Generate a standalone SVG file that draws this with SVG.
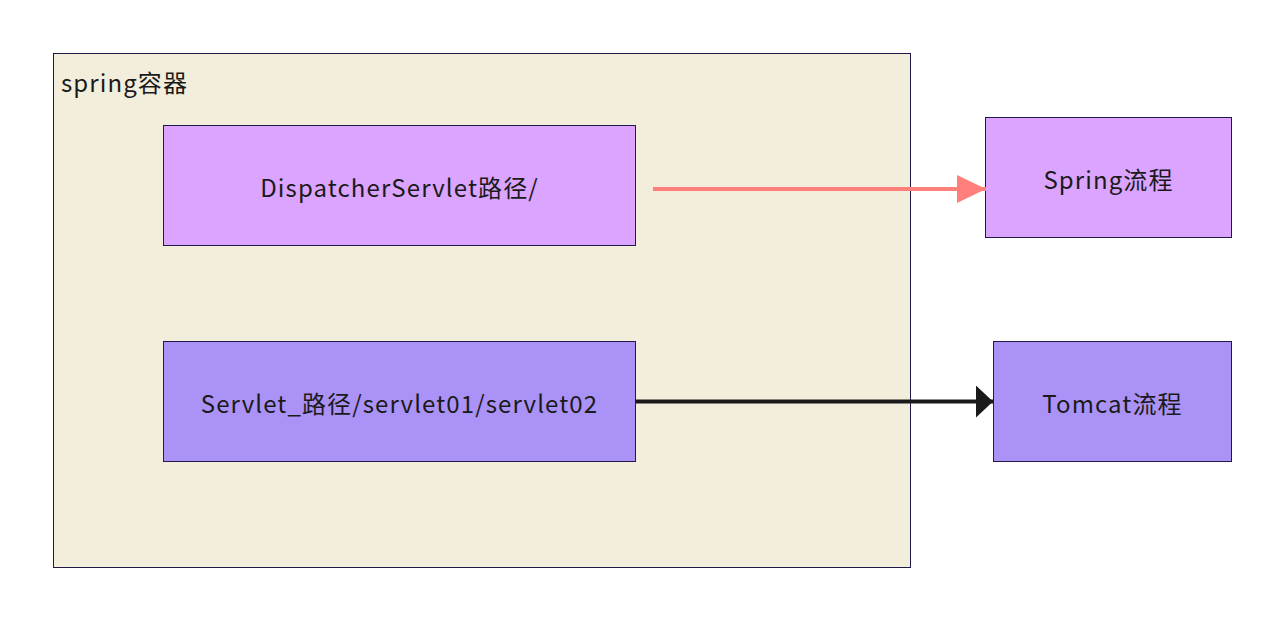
<svg xmlns="http://www.w3.org/2000/svg" width="1265" height="617" viewBox="0 0 1265 617">
<style>
text{font-family:"Noto Sans CJK SC","Noto Sans",sans-serif;font-size:24px;letter-spacing:1.1px;fill:#1a1a1a}
.box{stroke:#1f1a4a;stroke-width:1}
.c{text-anchor:middle;dominant-baseline:central}
</style>
<defs>
<marker id="ar" markerWidth="30" markerHeight="30" refX="29" refY="14" orient="auto" markerUnits="userSpaceOnUse">
<path d="M0,0 L29,14 L0,28 Z" fill="#ff7f7a"/>
</marker>
<marker id="ab" markerWidth="18" markerHeight="34" refX="17" refY="16" orient="auto" markerUnits="userSpaceOnUse">
<path d="M0,0 L17,16 L0,32 Z" fill="#1a1a1a"/>
</marker>
</defs>
<rect width="1265" height="617" fill="#ffffff"/>
<g id="container">
<rect class="box" x="53.5" y="53.5" width="857" height="514" fill="#f3eddb"/>
<text x="61" y="92">spring容器</text>
</g>
<g id="dispatcher">
<rect class="box" x="163.5" y="125.5" width="472" height="120" fill="#dba4fe"/>
<text class="c" x="399.5" y="186">DispatcherServlet路径/</text>
</g>
<g id="servlet">
<rect class="box" x="163.5" y="341.5" width="472" height="120" fill="#ab92f6"/>
<text class="c" x="399.5" y="402">Servlet_路径/servlet01/servlet02</text>
</g>
<g id="springflow">
<rect class="box" x="985.5" y="117.5" width="246" height="120" fill="#dba4fe"/>
<text class="c" x="1108.5" y="178">Spring流程</text>
</g>
<g id="tomcatflow">
<rect class="box" x="993.5" y="341.5" width="238" height="120" fill="#ab92f6"/>
<text class="c" x="1112.5" y="402">Tomcat流程</text>
</g>
<g id="connectors">
<line x1="653" y1="189" x2="986" y2="189" stroke="#ff7f7a" stroke-width="4" marker-end="url(#ar)"/>
<line x1="636" y1="401.5" x2="993" y2="401.5" stroke="#1a1a1a" stroke-width="4" marker-end="url(#ab)"/>
</g>
</svg>
